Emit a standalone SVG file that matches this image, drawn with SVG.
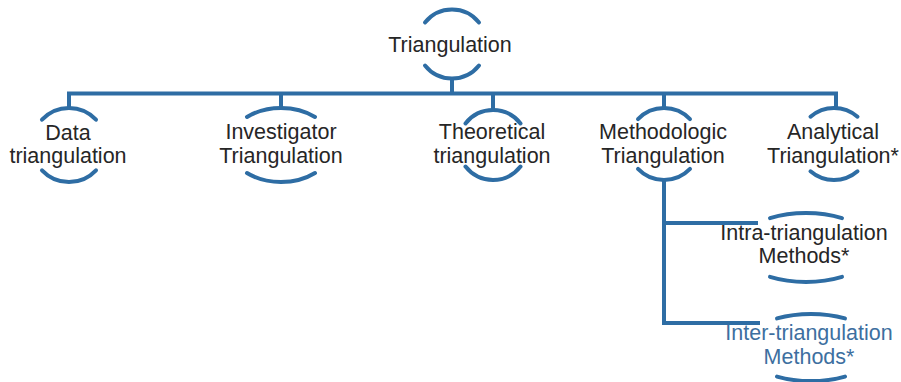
<svg xmlns="http://www.w3.org/2000/svg" width="901" height="382" viewBox="0 0 901 382">
<style>
.ln{fill:none;stroke:#2E6DA4;stroke-width:4;stroke-linecap:butt;stroke-linejoin:miter}
.arc{fill:none;stroke:#2E6DA4;stroke-width:4;stroke-linecap:round}
text{font-family:"Liberation Sans",Arial,sans-serif;font-size:21.5px;fill:#262626;text-anchor:middle}
.blue{fill:#3D6FA0}
</style>
<rect width="901" height="382" fill="#ffffff"/>
<g id="connectors">
<path class="ln" d="M69,108 V93.5 H836 V108"/>
<path class="ln" d="M452,78.5 V93.5"/>
<path class="ln" d="M281,93.5 V108"/>
<path class="ln" d="M493,93.5 V110"/>
<path class="ln" d="M664,93.5 V108"/>
<path class="ln" d="M664,180 V323 H760"/>
<path class="ln" d="M664,223 H758"/>
</g>
<g id="node-triangulation">
<path class="arc" d="M425,22.5 A34.5,34.5 0 0 1 479,22.5"/>
<path class="arc" d="M425,65.5 A34.5,34.5 0 0 0 479,65.5"/>
<text x="450" y="52">Triangulation</text>
</g>
<g id="node-data">
<path class="arc" d="M42,119.7 A37,37 0 0 1 96,119.7"/>
<path class="arc" d="M42,170.3 A37,37 0 0 0 96,170.3"/>
<text x="68" y="140">Data</text>
<text x="68" y="163">triangulation</text>
</g>
<g id="node-investigator">
<path class="arc" d="M247,117 A52,37 0 0 1 315,117"/>
<path class="arc" d="M247,173 A52,37 0 0 0 315,173"/>
<text x="281" y="139">Investigator</text>
<text x="281" y="163">Triangulation</text>
</g>
<g id="node-theoretical">
<path class="arc" d="M465.5,123.4 A35,35 0 0 1 520.5,123.4"/>
<path class="arc" d="M465.5,166.6 A35,35 0 0 0 520.5,166.6"/>
<text x="492" y="139">Theoretical</text>
<text x="492" y="163">triangulation</text>
</g>
<g id="node-methodologic">
<path class="arc" d="M638,119.1 A36,36 0 0 1 690,119.1"/>
<path class="arc" d="M638,168.9 A36,36 0 0 0 690,168.9"/>
<text x="663" y="139">Methodologic</text>
<text x="663" y="163">Triangulation</text>
</g>
<g id="node-analytical">
<path class="arc" d="M810.5,116.7 A36,36 0 0 1 857.5,116.7"/>
<path class="arc" d="M810.5,171.3 A36,36 0 0 0 857.5,171.3"/>
<text x="833" y="139">Analytical</text>
<text x="833" y="163">Triangulation*</text>
</g>
<g id="node-intra">
<path class="arc" d="M770,218.1 A69,34.5 0 0 1 842,218.1"/>
<path class="arc" d="M770,276.9 A69,34.5 0 0 0 842,276.9"/>
<text x="804" y="240">Intra-triangulation</text>
<text x="804" y="263">Methods*</text>
</g>
<g id="node-inter">
<path class="arc" d="M777,318.4 A69,34.5 0 0 1 845,318.4"/>
<path class="arc" d="M777,376.6 A69,34.5 0 0 0 845,376.6"/>
<text class="blue" x="809" y="340">Inter-triangulation</text>
<text class="blue" x="809" y="364">Methods*</text>
</g>
</svg>
